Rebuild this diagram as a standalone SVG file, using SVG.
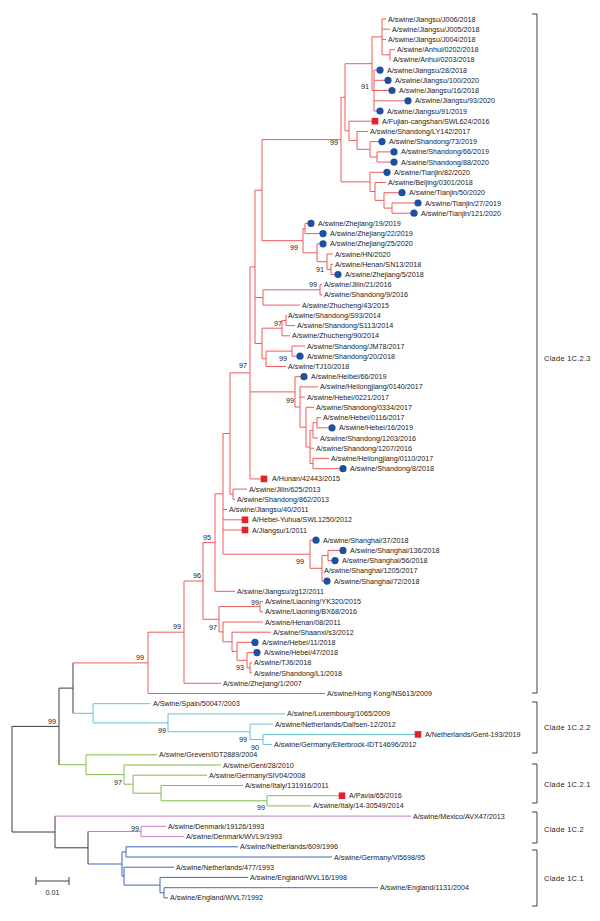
<svg xmlns="http://www.w3.org/2000/svg" width="600" height="921" viewBox="0 0 600 921">
<style>
text{font-family:"Liberation Sans",Arial,sans-serif;font-size:7.2px;fill:#222;dominant-baseline:central}
.bs{text-anchor:middle}
.cl{font-size:7.4px;letter-spacing:0.3px}
path{fill:none;stroke-width:1}
.r{stroke:#ef5a5a}.c{stroke:#5ec3d0}.g{stroke:#84bd4c}.p{stroke:#c77cc2}.b{stroke:#3f67b3}.k{stroke:#3c3c3c}
.br{stroke:#444;stroke-width:1}
.dot{fill:#1e50a2}.sq{fill:#e42229}
</style>
<rect width="600" height="921" fill="#fff"/>
<g id="connectors">
<path class="r" d="M390 49.7V59.9M390 49.7H395M390 59.9H391M382 19V54.8M382 19H386M382 29.2H390M382 39.4H386M382 54.8H390M374 70.1V111M374 70.1H380M374 80.3H388M374 90.5H392M374 100.8H408M374 111H380M372 36.9V90.5M372 36.9H382M372 90.5H374M345 63.7V130.8M345 63.7H372M345 130.8H349M377 151.9V162.1M377 151.9H394M377 162.1H394M370 141.6V157M370 141.6H382M370 157H377M357 131.4V149.3M357 131.4H368M357 149.3H370M349 121.2V140.4M349 121.2H375M349 140.4H357M392 203V213.2M392 203H418M392 213.2H414M384 192.7V208.1M384 192.7H402M384 208.1H392M375 182.5V200.4M375 182.5H386M375 200.4H384M370 172.3V191.5M370 172.3H387M370 191.5H375M341 97.3V181.9M341 97.3H345M341 181.9H370"/>
<path class="r" d="M305 223.4V233.6M305 223.4H311M305 233.6H323M331 264.3V274.5M331 264.3H333M331 274.5H338M327 254V269.4M327 254H333M327 269.4H331M317 243.8V261.7M317 243.8H323M317 261.7H327M303 228.5V252.8M303 228.5H305M303 252.8H317M262 139.6V240.7M262 139.6H341M262 240.7H303M320 284.7V294.9M320 284.7H322M320 294.9H322M263 289.8V305.1M263 289.8H320M263 305.1H300"/>
<path class="r" d="M286 315.4V325.6M286 315.4H287M286 325.6H295M282 320.5V335.8M282 320.5H286M282 335.8H290M292 346V356.2M292 346H305M292 356.2H300M266 351.1V366.5M266 351.1H292M266 366.5H286M262 328.2V358.8M262 328.2H282M262 358.8H266"/>
<path class="r" d="M317 417.6V427.8M317 417.6H321M317 427.8H332M313 422.7V438M313 422.7H317M313 438H318M313 458.4V468.7M313 458.4H329M313 468.7H343M310 430.4V463.5M310 430.4H313M310 448.2H314M310 463.5H313M306 407.3V447M306 407.3H314M306 447H310M300 386.9V427.2M300 386.9H318M300 397.1H305M300 427.2H306M295 376.7V407M295 376.7H304M295 407H300"/>
<path class="r" d="M255 190.2V343.5M255 190.2H262M255 297.5H263M255 343.5H262M250 266.9V478.9M250 266.9H255M250 391.9H295M250 478.9H264M233 489.1V499.3M233 489.1H247M233 499.3H235M230 372.9V494.2M230 372.9H250M230 494.2H233"/>
<path class="r" d="M328 550.4V560.6M328 550.4H343M328 560.6H335M322 555.5V581.1M322 555.5H328M322 570.9H322.5M322 581.1H327M310 540.2V568.3M310 540.2H316M310 568.3H322M223 433.5V554.2M223 433.5H230M223 509.5H227M223 519.8H245M223 530H245M223 554.2H310M215 493.9V591.3M215 493.9H223M215 591.3H235"/>
<path class="r" d="M260 601.5V611.7M260 601.5H263M260 611.7H263M250 662.8V673M250 662.8H252M250 673H252M247 652.6V667.9M247 652.6H257M247 667.9H250M237 642.4V660.3M237 642.4H255M237 660.3H247M232 632.2V651.4M232 632.2H271M232 651.4H237M223 622V641.8M223 622H263M223 641.8H232M219 606.6V631.9M219 606.6H260M219 631.9H223M203 542.6V619.3M203 542.6H215M203 619.3H219M184 581V683.3M184 581H203M184 683.3H221M148 632.2V693.5M148 632.2H184M148 693.5H325M73 662.9H148"/>
<path class="c" d="M263 734.4V744.6M263 734.4H418M263 744.6H272M250 724.1V739.5M250 724.1H273M250 739.5H263M168 713.9V731.8M168 713.9H285M168 731.8H250M93 703.7V722.9M93 703.7H150M93 722.9H168M73 713.3H93"/>
<path class="g" d="M267 795.7V805.9M267 795.7H342M267 805.9H311M161 785.5V800.8M161 785.5H243M161 800.8H267M133 775.2V793.2M133 775.2H207M133 793.2H161M124 765V784.2M124 765H221M124 784.2H133M86 754.8V774.6M86 754.8H157M86 774.6H124M59 764.7H86"/>
<path class="k" d="M73 662.9V713.3M59 688.1V764.7M59 688.1H73M12 726.4V832M12 726.4H59M12 832H55M55 816.1V847.8M55 847.8H88M88 831.5V864"/>
<path class="p" d="M55 816.1H411M88 831.5H141M141 826.3V836.6M141 826.3H166M141 836.6H184"/>
<path class="b" d="M88 864H122M122 851.9V876.2M122 851.9H126M122 876.2H124M126 846.8V857M126 846.8H238M126 857H332M124 867.2V885.1M124 867.2H174M124 885.1H160M160 877.4V892.8M160 877.4H248M160 892.8H164M164 887.7V897.9M164 887.7H378M164 897.9H168"/>
</g>
<g id="support">
<text class="bs" x="365" y="86">91</text>
<text class="bs" x="334" y="142">99</text>
<text class="bs" x="294" y="247">99</text>
<text class="bs" x="320" y="269">91</text>
<text class="bs" x="313" y="284">99</text>
<text class="bs" x="278" y="323">97</text>
<text class="bs" x="283" y="358">99</text>
<text class="bs" x="243" y="365">97</text>
<text class="bs" x="290" y="400">99</text>
<text class="bs" x="300" y="561">99</text>
<text class="bs" x="207" y="537">95</text>
<text class="bs" x="197" y="575">96</text>
<text class="bs" x="255" y="602">99</text>
<text class="bs" x="213" y="627">97</text>
<text class="bs" x="240" y="667">93</text>
<text class="bs" x="177" y="626">99</text>
<text class="bs" x="140" y="657">99</text>
<text class="bs" x="52" y="721">99</text>
<text class="bs" x="162" y="730">99</text>
<text class="bs" x="243" y="739">99</text>
<text class="bs" x="255" y="747">90</text>
<text class="bs" x="118" y="782">97</text>
<text class="bs" x="261" y="807">99</text>
<text class="bs" x="135" y="828">99</text>
</g>
<g id="leaves">
<g id="leaf1"><text x="388" y="19">A/swine/Jiangsu/J006/2018</text></g>
<g id="leaf2"><text x="392" y="29.2">A/swine/Jiangsu/J005/2018</text></g>
<g id="leaf3"><text x="388" y="39.4">A/swine/Jiangsu/J004/2018</text></g>
<g id="leaf4"><text x="397" y="49.7">A/swine/Anhui/0202/2018</text></g>
<g id="leaf5"><text x="393" y="59.9">A/swine/Anhui/0203/2018</text></g>
<g id="leaf6"><circle class="dot" cx="380" cy="70.1" r="3.6"/><text x="387" y="70.1">A/swine/Jiangsu/28/2018</text></g>
<g id="leaf7"><circle class="dot" cx="388" cy="80.3" r="3.6"/><text x="395" y="80.3">A/swine/Jiangsu/100/2020</text></g>
<g id="leaf8"><circle class="dot" cx="392" cy="90.5" r="3.6"/><text x="399" y="90.5">A/swine/Jiangsu/16/2018</text></g>
<g id="leaf9"><circle class="dot" cx="408" cy="100.8" r="3.6"/><text x="415" y="100.8">A/swine/Jiangsu/93/2020</text></g>
<g id="leaf10"><circle class="dot" cx="380" cy="111" r="3.6"/><text x="387" y="111">A/swine/Jiangsu/91/2019</text></g>
<g id="leaf11"><rect class="sq" x="371.7" y="117.9" width="6.6" height="6.6"/><text x="382" y="121.2">A/Fujian-cangshan/SWL624/2016</text></g>
<g id="leaf12"><text x="370" y="131.4">A/swine/Shandong/LY142/2017</text></g>
<g id="leaf13"><circle class="dot" cx="382" cy="141.6" r="3.6"/><text x="389" y="141.6">A/swine/Shandong/73/2019</text></g>
<g id="leaf14"><circle class="dot" cx="394" cy="151.9" r="3.6"/><text x="401" y="151.9">A/swine/Shandong/66/2019</text></g>
<g id="leaf15"><circle class="dot" cx="394" cy="162.1" r="3.6"/><text x="401" y="162.1">A/swine/Shandong/88/2020</text></g>
<g id="leaf16"><circle class="dot" cx="387" cy="172.3" r="3.6"/><text x="394" y="172.3">A/swine/Tianjin/82/2020</text></g>
<g id="leaf17"><text x="388" y="182.5">A/swine/Beijing/0301/2018</text></g>
<g id="leaf18"><circle class="dot" cx="402" cy="192.7" r="3.6"/><text x="409" y="192.7">A/swine/Tianjin/50/2020</text></g>
<g id="leaf19"><circle class="dot" cx="418" cy="203" r="3.6"/><text x="425" y="203">A/swine/Tianjin/27/2019</text></g>
<g id="leaf20"><circle class="dot" cx="414" cy="213.2" r="3.6"/><text x="421" y="213.2">A/swine/Tianjin/121/2020</text></g>
<g id="leaf21"><circle class="dot" cx="311" cy="223.4" r="3.6"/><text x="318" y="223.4">A/swine/Zhejiang/19/2019</text></g>
<g id="leaf22"><circle class="dot" cx="323" cy="233.6" r="3.6"/><text x="330" y="233.6">A/swine/Zhejiang/22/2019</text></g>
<g id="leaf23"><circle class="dot" cx="323" cy="243.8" r="3.6"/><text x="330" y="243.8">A/swine/Zhejiang/25/2020</text></g>
<g id="leaf24"><text x="335" y="254">A/swine/HN/2020</text></g>
<g id="leaf25"><text x="335" y="264.3">A/swine/Henan/SN13/2018</text></g>
<g id="leaf26"><circle class="dot" cx="338" cy="274.5" r="3.6"/><text x="345" y="274.5">A/swine/Zhejiang/5/2018</text></g>
<g id="leaf27"><text x="324" y="284.7">A/swine/Jilin/21/2016</text></g>
<g id="leaf28"><text x="324" y="294.9">A/swine/Shandong/9/2016</text></g>
<g id="leaf29"><text x="302" y="305.1">A/swine/Zhucheng/43/2015</text></g>
<g id="leaf30"><text x="288" y="315.4">A/swine/Shandong/S93/2014</text></g>
<g id="leaf31"><text x="297" y="325.6">A/swine/Shandong/S113/2014</text></g>
<g id="leaf32"><text x="292" y="335.8">A/swine/Zhucheng/90/2014</text></g>
<g id="leaf33"><text x="307" y="346">A/swine/Shandong/JM78/2017</text></g>
<g id="leaf34"><circle class="dot" cx="300" cy="356.2" r="3.6"/><text x="307" y="356.2">A/swine/Shandong/20/2018</text></g>
<g id="leaf35"><text x="288" y="366.5">A/swine/TJ10/2018</text></g>
<g id="leaf36"><circle class="dot" cx="304" cy="376.7" r="3.6"/><text x="311" y="376.7">A/swine/Heibei/66/2019</text></g>
<g id="leaf37"><text x="320" y="386.9">A/swine/Heilongjiang/0140/2017</text></g>
<g id="leaf38"><text x="307" y="397.1">A/swine/Hebei/0221/2017</text></g>
<g id="leaf39"><text x="316" y="407.3">A/swine/Shandong/0334/2017</text></g>
<g id="leaf40"><text x="323" y="417.6">A/swine/Hebei/0116/2017</text></g>
<g id="leaf41"><circle class="dot" cx="332" cy="427.8" r="3.6"/><text x="339" y="427.8">A/swine/Hebei/16/2019</text></g>
<g id="leaf42"><text x="320" y="438">A/swine/Shandong/1203/2016</text></g>
<g id="leaf43"><text x="316" y="448.2">A/swine/Shandong/1207/2016</text></g>
<g id="leaf44"><text x="331" y="458.4">A/swine/Heilongjiang/0110/2017</text></g>
<g id="leaf45"><circle class="dot" cx="343" cy="468.7" r="3.6"/><text x="350" y="468.7">A/swine/Shandong/8/2018</text></g>
<g id="leaf46"><rect class="sq" x="260.7" y="475.6" width="6.6" height="6.6"/><text x="272" y="478.9">A/Hunan/42443/2015</text></g>
<g id="leaf47"><text x="249" y="489.1">A/swine/Jilin/625/2013</text></g>
<g id="leaf48"><text x="237" y="499.3">A/swine/Shandong/862/2013</text></g>
<g id="leaf49"><text x="229" y="509.5">A/swine/Jiangsu/40/2011</text></g>
<g id="leaf50"><rect class="sq" x="241.7" y="516.5" width="6.6" height="6.6"/><text x="252" y="519.8">A/Hebei-Yuhua/SWL1250/2012</text></g>
<g id="leaf51"><rect class="sq" x="241.7" y="526.7" width="6.6" height="6.6"/><text x="252" y="530">A/Jiangsu/1/2011</text></g>
<g id="leaf52"><circle class="dot" cx="316" cy="540.2" r="3.6"/><text x="323" y="540.2">A/swine/Shanghai/37/2018</text></g>
<g id="leaf53"><circle class="dot" cx="343" cy="550.4" r="3.6"/><text x="350" y="550.4">A/swine/Shanghai/136/2018</text></g>
<g id="leaf54"><circle class="dot" cx="335" cy="560.6" r="3.6"/><text x="342" y="560.6">A/swine/Shanghai/56/2018</text></g>
<g id="leaf55"><text x="324" y="570.9">A/swine/Shanghai/1205/2017</text></g>
<g id="leaf56"><circle class="dot" cx="327" cy="581.1" r="3.6"/><text x="334" y="581.1">A/swine/Shanghai/72/2018</text></g>
<g id="leaf57"><text x="237" y="591.3">A/swine/Jiangsu/zg12/2011</text></g>
<g id="leaf58"><text x="265" y="601.5">A/swine/Liaoning/YK320/2015</text></g>
<g id="leaf59"><text x="265" y="611.7">A/swine/Liaoning/BX68/2016</text></g>
<g id="leaf60"><text x="265" y="622">A/swine/Henan/08/2011</text></g>
<g id="leaf61"><text x="273" y="632.2">A/swine/Shaanxi/s3/2012</text></g>
<g id="leaf62"><circle class="dot" cx="255" cy="642.4" r="3.6"/><text x="262" y="642.4">A/swine/Hebei/11/2018</text></g>
<g id="leaf63"><circle class="dot" cx="257" cy="652.6" r="3.6"/><text x="264" y="652.6">A/swine/Hebei/47/2018</text></g>
<g id="leaf64"><text x="254" y="662.8">A/swine/TJ6/2018</text></g>
<g id="leaf65"><text x="254" y="673">A/swine/Shandong/L1/2018</text></g>
<g id="leaf66"><text x="223" y="683.3">A/swine/Zhejiang/1/2007</text></g>
<g id="leaf67"><text x="327" y="693.5">A/swine/Hong Kong/NS613/2009</text></g>
<g id="leaf68"><text x="153" y="703.7">A/Swine/Spain/50047/2003</text></g>
<g id="leaf69"><text x="287" y="713.9">A/swine/Luxembourg/1065/2009</text></g>
<g id="leaf70"><text x="275" y="724.1">A/swine/Netherlands/Dalfsen-12/2012</text></g>
<g id="leaf71"><rect class="sq" x="414.7" y="731.1" width="6.6" height="6.6"/><text x="425" y="734.4">A/Netherlands/Gent-193/2019</text></g>
<g id="leaf72"><text x="274" y="744.6">A/swine/Germany/Ellerbrock-IDT14696/2012</text></g>
<g id="leaf73"><text x="159" y="754.8">A/swine/Greven/IDT2889/2004</text></g>
<g id="leaf74"><text x="223" y="765">A/swine/Gent/28/2010</text></g>
<g id="leaf75"><text x="209" y="775.2">A/swine/Germany/SIV04/2008</text></g>
<g id="leaf76"><text x="245" y="785.5">A/swine/Italy/131916/2011</text></g>
<g id="leaf77"><rect class="sq" x="338.7" y="792.4" width="6.6" height="6.6"/><text x="349" y="795.7">A/Pavia/65/2016</text></g>
<g id="leaf78"><text x="313" y="805.9">A/swine/Italy/14-30549/2014</text></g>
<g id="leaf79"><text x="413" y="816.1">A/swine/Mexico/AVX47/2013</text></g>
<g id="leaf80"><text x="168" y="826.3">A/swine/Denmark/19126/1993</text></g>
<g id="leaf81"><text x="186" y="836.6">A/swine/Denmark/WVL9/1993</text></g>
<g id="leaf82"><text x="240" y="846.8">A/swine/Netherlands/609/1996</text></g>
<g id="leaf83"><text x="334" y="857">A/swine/Germany/Vi5698/95</text></g>
<g id="leaf84"><text x="176" y="867.2">A/swine/Netherlands/477/1993</text></g>
<g id="leaf85"><text x="250" y="877.4">A/swine/England/WVL16/1998</text></g>
<g id="leaf86"><text x="380" y="887.7">A/swine/England/1131/2004</text></g>
<g id="leaf87"><text x="170" y="897.9">A/swine/England/WVL7/1992</text></g>
</g>
<g id="clades">
<path class="br" d="M532 14H537V693H532M532 702H537V753H532M532 764H537V803H532M532 812H537V843H532M532 850H537V906H532"/>
<text class="cl" x="544" y="358">Clade 1C.2.3</text>
<text class="cl" x="544" y="727">Clade 1C.2.2</text>
<text class="cl" x="544" y="784">Clade 1C.2.1</text>
<text class="cl" x="544" y="829">Clade 1C.2</text>
<text class="cl" x="544" y="878">Clade 1C.1</text>
</g>
<g id="scalebar">
<path class="k" d="M36 881H69M36 877V885M69 877V885"/>
<text class="bs" x="52.5" y="892">0.01</text>
</g>
</svg>
